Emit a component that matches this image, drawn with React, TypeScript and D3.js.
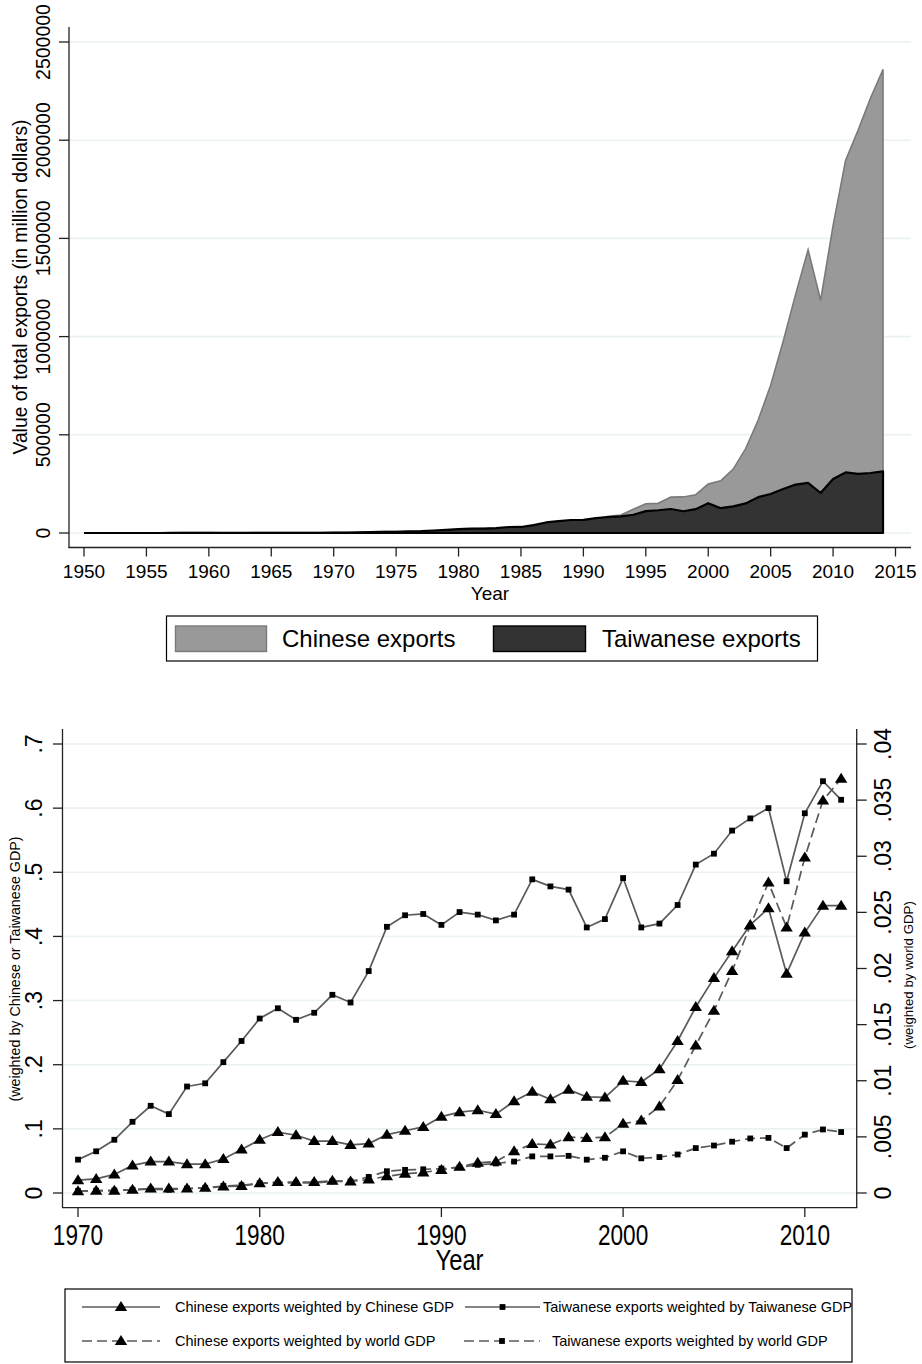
import React from "react";
import * as d3 from "d3";

// ---------- Top chart data (million USD) ----------
const topYears: number[] = d3.range(1950, 2015);
const chineseExports: number[] = [
  552, 757, 823, 1022, 1146, 1412, 1645, 1597, 1981, 2261,
  1856, 1491, 1490, 1650, 1916, 2228, 2366, 2135, 2103, 2204,
  2260, 2636, 3443, 5819, 6949, 7264, 6855, 7590, 9750, 13660,
  18120, 22010, 22320, 22230, 26140, 27350, 30940, 39440, 47520, 52540,
  62090, 71840, 84940, 91740, 121010, 148780, 151050, 182790, 183710, 194930,
  249200, 266100, 325600, 430000, 575000, 752000, 975000, 1215000, 1442000, 1185000,
  1565000, 1897000, 2050000, 2215000, 2360000,
];
const taiwaneseExports: number[] = [
  93, 93, 116, 128, 93, 123, 118, 148, 156, 157,
  164, 195, 218, 332, 433, 450, 536, 641, 789, 1049,
  1481, 2060, 2988, 4483, 5639, 5309, 8166, 9361, 12687, 16103,
  19811, 22611, 22204, 25123, 30456, 30726, 39862, 53679, 60667, 66304,
  67214, 76178, 81470, 85091, 93049, 111659, 115942, 122081, 110582, 121591,
  151950, 126314, 135317, 150600, 182370, 198432, 224017, 246677, 255629, 203675,
  274601, 308257, 301181, 305441, 313696,
];
const topYTicks: number[] = [0, 500000, 1000000, 1500000, 2000000, 2500000];
const topXTicks: number[] = d3.range(1950, 2016, 5);

// ---------- Bottom chart data ----------
const botYears: number[] = d3.range(1970, 2013);
// left axis (weighted by own GDP)
const chnByChnGDP: number[] = [
  0.020, 0.022, 0.029, 0.043, 0.049, 0.049, 0.045, 0.045, 0.053, 0.068,
  0.083, 0.095, 0.090, 0.081, 0.081, 0.075, 0.077, 0.091, 0.097, 0.103,
  0.119, 0.126, 0.129, 0.123, 0.143, 0.158, 0.146, 0.161, 0.150, 0.149,
  0.175, 0.173, 0.193, 0.237, 0.290, 0.335, 0.377, 0.418, 0.444, 0.342,
  0.406, 0.448, 0.448,
];
const twnByTwnGDP: number[] = [
  0.052, 0.065, 0.083, 0.111, 0.136, 0.123, 0.166, 0.171, 0.204, 0.237,
  0.272, 0.288, 0.270, 0.281, 0.309, 0.297, 0.346, 0.415, 0.433, 0.435,
  0.418, 0.438, 0.434, 0.425, 0.434, 0.489, 0.478, 0.473, 0.414, 0.427,
  0.491, 0.414, 0.420, 0.449, 0.512, 0.529, 0.565, 0.584, 0.600, 0.486,
  0.592, 0.642, 0.613,
];
// right axis (weighted by world GDP)
const chnByWorldGDP: number[] = [
  0.00015, 0.00021, 0.00021, 0.00029, 0.00040, 0.00040, 0.00040, 0.00046, 0.00057, 0.00063,
  0.00086, 0.00097, 0.00097, 0.00097, 0.00109, 0.00103, 0.00120, 0.00149, 0.00171, 0.00183,
  0.00206, 0.00234, 0.00269, 0.00280, 0.00371, 0.00437, 0.00431, 0.00497, 0.00491, 0.00497,
  0.00617, 0.00646, 0.00771, 0.01006, 0.01314, 0.01623, 0.01977, 0.02383, 0.02766, 0.02366,
  0.02989, 0.03497, 0.03691,
];
const twnByWorldGDP: number[] = [
  0.00017, 0.00020, 0.00023, 0.00029, 0.00034, 0.00029, 0.00040, 0.00046, 0.00063, 0.00069,
  0.00086, 0.00091, 0.00091, 0.00091, 0.00103, 0.00103, 0.00143, 0.00194, 0.00206, 0.00211,
  0.00217, 0.00229, 0.00251, 0.00263, 0.00280, 0.00326, 0.00326, 0.00331, 0.00297, 0.00314,
  0.00371, 0.00309, 0.00320, 0.00343, 0.00400, 0.00423, 0.00457, 0.00486, 0.00491, 0.00400,
  0.00520, 0.00566, 0.00543,
];
const leftTicks: number[] = [0, 0.1, 0.2, 0.3, 0.4, 0.5, 0.6, 0.7];
const leftTickLabels: string[] = ["0", ".1", ".2", ".3", ".4", ".5", ".6", ".7"];
const rightTicks: number[] = [0, 0.005, 0.01, 0.015, 0.02, 0.025, 0.03, 0.035, 0.04];
const rightTickLabels: string[] = ["0", ".005", ".01", ".015", ".02", ".025", ".03", ".035", ".04"];
const botXTicks: number[] = [1970, 1980, 1990, 2000, 2010];

const FONT = "'Liberation Sans', Arial, Helvetica, sans-serif";
const GRID = "#EAF2F3";
const AXIS = "#222";
const LINE = "#5a5a5a";

function Triangle({ x, y }: { x: number; y: number }) {
  return <path d={`M${x},${y - 6}L${x + 6.2},${y + 4}L${x - 6.2},${y + 4}Z`} fill="#000" />;
}
function Square({ x, y }: { x: number; y: number }) {
  return <rect x={x - 2.9} y={y - 2.9} width={5.8} height={5.8} fill="#000" />;
}

export default function App() {
  // ----- top scales -----
  const tx = d3.scaleLinear().domain([1950, 2015]).range([84, 895.5]);
  const ty = d3.scaleLinear().domain([0, 2500000]).range([533, 42]);
  const areaCh = d3
    .area<number>()
    .x((_, i) => tx(topYears[i]))
    .y0(ty(0))
    .y1((d) => ty(d));
  const topLineGen = d3
    .line<number>()
    .x((_, i) => tx(topYears[i]))
    .y((d) => ty(d));

  // ----- bottom scales -----
  const bx = d3.scaleLinear().domain([1970, 2010]).range([78, 804.8]);
  const byL = d3.scaleLinear().domain([0, 0.7]).range([1193, 744]);
  const byR = d3.scaleLinear().domain([0, 0.04]).range([1193, 744]);
  const lineL = d3
    .line<number>()
    .x((_, i) => bx(botYears[i]))
    .y((d) => byL(d));
  const lineR = d3
    .line<number>()
    .x((_, i) => bx(botYears[i]))
    .y((d) => byR(d));

  const series = [
    { data: chnByChnGDP, gen: lineL, y: byL, dash: undefined, marker: "tri" },
    { data: twnByTwnGDP, gen: lineL, y: byL, dash: undefined, marker: "sq" },
    { data: chnByWorldGDP, gen: lineR, y: byR, dash: "10,5", marker: "tri" },
    { data: twnByWorldGDP, gen: lineR, y: byR, dash: "10,5", marker: "sq" },
  ];

  const legendItems = [
    { label: "Chinese exports weighted by Chinese GDP", x: 82, tx: 175, y: 1307, dash: undefined, marker: "tri", len: 78 },
    { label: "Taiwanese exports weighted by Taiwanese GDP", x: 465, tx: 543, y: 1307, dash: undefined, marker: "sq", len: 75 },
    { label: "Chinese exports weighted by world GDP", x: 82, tx: 175, y: 1341, dash: "10,5", marker: "tri", len: 78 },
    { label: "Taiwanese exports weighted by world GDP", x: 464, tx: 552, y: 1341, dash: "10,5", marker: "sq", len: 76 },
  ];

  return (
    <svg
      width={922}
      height={1364}
      style={{ position: "absolute", left: 0, top: 0, background: "#fff" }}
      fontFamily={FONT}
    >
      <rect x={0} y={0} width={922} height={1364} fill="#fff" />
      {/* ================= TOP CHART ================= */}
      {topYTicks.map((t) => (
        <line key={"tg" + t} x1={69} x2={911} y1={ty(t)} y2={ty(t)} stroke={GRID} strokeWidth={1.6} />
      ))}
      <path d={areaCh(chineseExports) || ""} fill="#999999" />
      <path d={topLineGen(chineseExports) || ""} fill="none" stroke="#7a7a7a" strokeWidth={1.6} />
      <line x1={tx(2014)} x2={tx(2014)} y1={ty(0)} y2={ty(chineseExports[64])} stroke="#7a7a7a" strokeWidth={1.6} />
      <path d={areaCh(taiwaneseExports) || ""} fill="#333333" />
      <path
        d={(topLineGen(taiwaneseExports) || "") + `L${tx(2014)},${ty(0)}L${tx(1950)},${ty(0)}`}
        fill="none"
        stroke="#000"
        strokeWidth={2.2}
        strokeLinejoin="round"
      />
      {/* axes */}
      <line x1={69} x2={69} y1={27} y2={548} stroke={AXIS} strokeWidth={1.3} />
      <line x1={68.5} x2={911} y1={547.5} y2={547.5} stroke={AXIS} strokeWidth={1.3} />
      {topYTicks.map((t) => (
        <g key={"ty" + t}>
          <line x1={59} x2={69} y1={ty(t)} y2={ty(t)} stroke={AXIS} strokeWidth={1.3} />
          <text
            transform={`translate(50,${ty(t)}) rotate(-90)`}
            textAnchor="middle"
            fontSize={19.5}
            fill="#000"
          >
            {t}
          </text>
        </g>
      ))}
      {topXTicks.map((t) => (
        <g key={"tx" + t}>
          <line x1={tx(t)} x2={tx(t)} y1={547.5} y2={556.5} stroke={AXIS} strokeWidth={1.3} />
          <text x={tx(t)} y={578} textAnchor="middle" fontSize={19} fill="#000">
            {t}
          </text>
        </g>
      ))}
      <text x={490} y={600} textAnchor="middle" fontSize={19} fill="#000">
        Year
      </text>
      <text transform={`translate(27,287) rotate(-90)`} textAnchor="middle" fontSize={19.3} fill="#000">
        Value of total exports (in million dollars)
      </text>
      {/* top legend */}
      <rect x={166.5} y={616} width={651} height={45} fill="#fff" stroke="#000" strokeWidth={1.2} />
      <rect x={175.5} y={626} width={91} height={25.5} fill="#999999" stroke="#7a7a7a" strokeWidth={1.4} />
      <text x={282} y={647} fontSize={24} fill="#000">
        Chinese exports
      </text>
      <rect x={493.5} y={626} width={92} height={25.5} fill="#333333" stroke="#000" strokeWidth={1.4} />
      <text x={602} y={647} fontSize={24} fill="#000">
        Taiwanese exports
      </text>

      {/* ================= BOTTOM CHART ================= */}
      {leftTicks.map((t) => (
        <line key={"bg" + t} x1={62.5} x2={856.5} y1={byL(t)} y2={byL(t)} stroke={GRID} strokeWidth={1.6} />
      ))}
      {series.map((s, k) => (
        <path
          key={"ln" + k}
          d={s.gen(s.data) || ""}
          fill="none"
          stroke={LINE}
          strokeWidth={1.7}
          strokeDasharray={s.dash}
        />
      ))}
      {series.map((s, k) =>
        s.data.map((v, i) =>
          s.marker === "tri" ? (
            <Triangle key={`m${k}-${i}`} x={bx(botYears[i])} y={s.y(v)} />
          ) : (
            <Square key={`m${k}-${i}`} x={bx(botYears[i])} y={s.y(v)} />
          )
        )
      )}
      {/* axes */}
      <line x1={62.5} x2={62.5} y1={729} y2={1208} stroke={AXIS} strokeWidth={1.3} />
      <line x1={856.7} x2={856.7} y1={729} y2={1208} stroke={AXIS} strokeWidth={1.3} />
      <line x1={62} x2={857.3} y1={1207.7} y2={1207.7} stroke={AXIS} strokeWidth={1.3} />
      {leftTicks.map((t, i) => (
        <g key={"bl" + t}>
          <line x1={53} x2={62.5} y1={byL(t)} y2={byL(t)} stroke={AXIS} strokeWidth={1.3} />
          <text transform={`translate(42,${byL(t)}) rotate(-90)`} textAnchor="middle" fontSize={23} fill="#000">
            {leftTickLabels[i]}
          </text>
        </g>
      ))}
      {rightTicks.map((t, i) => (
        <g key={"br" + t}>
          <line x1={856.7} x2={866.7} y1={byR(t)} y2={byR(t)} stroke={AXIS} strokeWidth={1.3} />
          <text transform={`translate(891,${byR(t)}) rotate(-90)`} textAnchor="middle" fontSize={23} fill="#000">
            {rightTickLabels[i]}
          </text>
        </g>
      ))}
      {botXTicks.map((t) => (
        <g key={"bx" + t}>
          <line x1={bx(t)} x2={bx(t)} y1={1207.7} y2={1217} stroke={AXIS} strokeWidth={1.3} />
          <text transform={`translate(${bx(t)},1245) scale(0.78,1)`} textAnchor="middle" fontSize={29} fill="#000">
            {t}
          </text>
        </g>
      ))}
      <text transform={`translate(459.5,1269.5) scale(0.82,1)`} textAnchor="middle" fontSize={29} fill="#000">
        Year
      </text>
      <text transform={`translate(20,969) rotate(-90)`} textAnchor="middle" fontSize={14.3} fill="#000">
        (weighted by Chinese or Taiwanese GDP)
      </text>
      <text transform={`translate(913,975) rotate(-90)`} textAnchor="middle" fontSize={13.3} fill="#000">
        (weighted by world GDP)
      </text>
      {/* bottom legend */}
      <rect x={65} y={1289} width={787} height={73} fill="none" stroke="#000" strokeWidth={1.2} />
      {legendItems.map((it, k) => (
        <g key={"lg" + k}>
          <line
            x1={it.x}
            x2={it.x + it.len}
            y1={it.y}
            y2={it.y}
            stroke={LINE}
            strokeWidth={1.7}
            strokeDasharray={it.dash}
          />
          {it.marker === "tri" ? (
            <Triangle x={it.x + it.len / 2} y={it.y} />
          ) : (
            <Square x={it.x + it.len / 2} y={it.y} />
          )}
          <text x={it.tx} y={it.y + 5} fontSize={14.5} fill="#000">
            {it.label}
          </text>
        </g>
      ))}
    </svg>
  );
}
